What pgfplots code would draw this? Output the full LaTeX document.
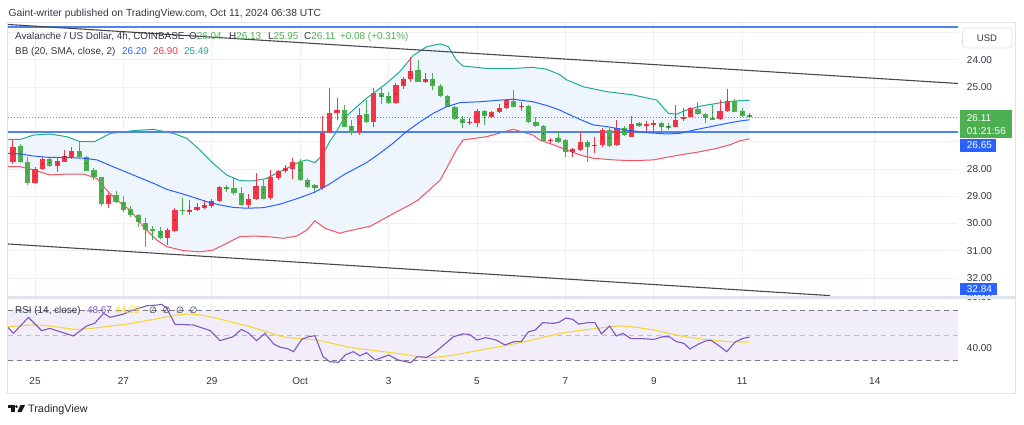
\documentclass[border=0pt]{standalone}
\usepackage{pgfplots}
\pgfplotsset{compat=1.18}
\usepackage{pgfplotstable}
\usepgfplotslibrary{fillbetween}
\usepackage{fontspec}
\setmainfont{Liberation Sans}
\newfontfamily\symfont{DejaVu Sans}

\definecolor{cgreen}{RGB}{76,175,80}
\definecolor{cred}{RGB}{242,54,69}
\definecolor{bbteal}{RGB}{34,171,148}
\definecolor{bbblue}{RGB}{41,98,255}
\definecolor{bbred}{RGB}{247,82,95}
\definecolor{bbfill}{RGB}{238,245,253}
\definecolor{hline}{RGB}{80,130,240}
\definecolor{tline}{RGB}{70,72,80}
\definecolor{gridc}{RGB}{237,240,246}
\definecolor{framec}{RGB}{224,227,235}
\definecolor{txt}{RGB}{50,54,64}
\definecolor{rsip}{RGB}{126,87,194}
\definecolor{rsiy}{RGB}{247,214,60}
\definecolor{rsifill}{RGB}{242,238,249}
\definecolor{dashc}{RGB}{120,123,134}
\definecolor{dashl}{RGB}{187,189,194}
\definecolor{boxblue}{RGB}{41,98,255}

\pgfplotstableread{
k o h l c
1 27.16 27.80 27.10 27.76
2 27.73 28.59 27.55 28.53
5 27.65 27.92 27.61 27.89
9 27.33 27.61 27.00 27.58
10 27.55 28.08 27.53 28.06
11 28.04 28.41 27.98 28.31
12 28.28 29.36 28.28 29.29
14 28.97 29.26 28.80 29.20
15 29.20 29.57 28.99 29.51
16 29.47 29.75 29.36 29.69
17 29.69 30.12 29.66 29.93
18 29.97 30.87 29.81 30.24
19 30.21 30.60 30.09 30.26
20 30.26 30.58 30.12 30.54
23 29.50 29.69 29.08 29.53
29 28.68 28.83 28.59 28.71
30 28.71 28.96 28.28 28.89
31 28.87 29.36 28.68 29.32
34 28.63 29.11 28.41 29.09
39 27.73 28.43 27.65 28.41
40 28.41 28.71 28.35 28.65
41 28.60 28.89 28.55 28.69
45 25.84 26.48 25.66 26.45
46 26.43 26.76 26.21 26.67
48 25.99 26.31 25.48 26.27
50 25.23 25.62 25.05 25.38
51 25.33 25.62 25.17 25.60
55 24.38 24.83 24.01 24.80
57 24.72 25.11 24.50 24.96
58 24.96 25.38 24.90 25.33
59 25.33 25.74 25.29 25.72
60 25.72 26.21 25.70 26.18
61 26.17 26.51 26.06 26.33
64 25.87 26.39 25.84 26.06
68 25.50 25.74 25.11 25.72
70 25.70 26.31 25.66 26.27
71 26.27 26.45 26.11 26.42
72 26.42 27.00 26.39 26.97
74 26.88 27.06 26.64 27.00
75 26.94 27.58 26.92 27.37
78 27.00 27.74 26.94 27.19
81 26.58 27.19 26.51 27.16
83 26.51 26.80 26.43 26.76
85 26.33 26.45 26.27 26.42
88 26.33 26.60 26.27 26.45
89 26.44 26.58 26.33 26.47
93 25.81 26.03 25.54 25.99
94 25.99 26.33 25.97 26.15
95 26.14 26.19 25.66 26.17
98 25.50 25.93 25.45 25.90
99 25.87 26.11 25.78 26.06
100 26.04 26.13 25.95 26.11
}\greentab

\pgfplotstableread{
k o h l c
0 27.73 27.82 26.94 27.19
3 28.53 28.55 27.92 28.00
4 28.00 28.04 27.55 27.65
6 27.88 28.10 27.61 27.71
7 27.73 27.76 27.31 27.53
8 27.58 27.65 27.19 27.33
13 29.29 29.44 28.89 28.97
21 30.52 30.79 30.18 30.24
22 30.27 30.30 29.44 29.51
24 29.54 29.69 29.14 29.51
25 29.51 29.54 29.24 29.38
26 29.44 29.48 29.14 29.32
27 29.36 29.44 29.11 29.18
28 29.16 29.20 28.63 28.65
32 29.32 29.44 28.92 29.11
33 29.11 29.14 28.16 28.63
35 29.08 29.14 28.04 28.31
36 28.35 28.41 28.04 28.08
37 28.06 28.16 27.86 27.98
38 28.00 28.38 27.61 27.73
42 28.71 28.77 26.06 26.70
43 26.67 26.70 25.05 25.94
44 25.96 26.21 25.41 25.84
47 26.67 26.76 25.78 26.03
49 26.27 26.48 25.05 25.23
52 25.60 25.62 24.84 24.93
53 24.96 25.09 24.62 24.71
54 24.72 24.80 23.91 24.40
56 24.80 24.84 24.50 24.71
62 26.29 26.39 26.15 26.27
63 26.31 26.48 25.82 25.87
65 26.09 26.15 25.87 25.90
66 25.93 25.96 25.62 25.78
67 25.78 25.82 25.45 25.48
69 25.71 25.87 25.54 25.68
73 26.95 27.06 26.88 26.93
76 27.37 27.58 27.22 27.27
77 27.31 27.33 26.64 27.00
79 27.16 27.43 26.82 27.12
80 27.12 27.19 26.51 26.58
82 27.12 27.16 26.21 26.51
84 26.82 26.84 26.06 26.37
86 26.43 26.67 26.23 26.37
87 26.36 26.70 26.21 26.33
90 26.45 26.48 25.66 26.21
91 26.19 26.23 25.78 26.11
92 26.09 26.11 25.72 25.78
96 26.19 26.21 25.48 25.87
97 25.87 25.90 25.09 25.50
}\redtab

\pgfplotsset{
  candlewick/.style={only marks, mark=*, mark options={draw=none, fill=none, scale=0.01}, forget plot,
    error bars/y dir=both, error bars/y explicit, error bars/error mark=none,
    error bars/error bar style={draw=#1, line width=1pt}},
  candlebody/.style={only marks, mark=*, mark options={draw=none, fill=none, scale=0.01}, forget plot,
    error bars/y dir=both, error bars/y explicit, error bars/error mark=none,
    error bars/error bar style={draw=#1, line width=5.2pt}},
}

\begin{document}
\begin{tikzpicture}
\draw[framec, line width=1pt] (7.5pt,-22.5pt) rectangle (1015pt,-393pt);

% ===== main price pane =====
\begin{axis}[
  at={(8pt,-297pt)}, anchor=south west, scale only axis,
  width=950pt, height=275pt,
  xmin=-0.67, xmax=128.3, ymin=22.619, ymax=32.692, y dir=reverse,
  axis line style={draw=none}, tick style={draw=none},
  xtick={3,15,27,39,51,63,75,87,99,117}, xticklabels={},
  ytick={23,24,...,32},
  yticklabels={,24.00,25.00,,,28.00,29.00,30.00,31.00,32.00},
  yticklabel pos=right,
  yticklabel style={font=\fontsize{10}{12}\selectfont, text=txt, anchor=west, xshift=5.4pt},
  grid=major, grid style={draw=gridc, line width=0.8pt},
  set layers,
]
% Bollinger bands
\addplot[name path=bbup, draw=bbteal, line width=1pt] coordinates {
(-0.67,26.92) (1,26.92) (2.8,26.76) (5,26.72) (7.3,26.82) (9.1,27.00) (11.1,27.00) (13.2,26.70) (16.3,26.60) (19.1,26.55) (21.8,26.70) (23.6,26.88) (25.4,27.31) (27.2,27.80) (29,28.22) (30.8,28.43) (32.6,28.44) (34.4,28.35) (36.7,28.04) (39,27.73) (39.9,27.67) (41,27.77) (42,27.5) (43,27.0) (44,26.6) (44.9,26.15) (48,25.41) (50.7,24.87) (52.5,24.44) (54.4,23.83) (56.2,23.52) (58,23.42) (59.1,23.52) (60.2,24.01) (61.1,24.23) (64.3,24.32) (67.9,24.32) (70.6,24.28) (72.5,24.35) (74.3,24.56) (75.2,24.74) (77.4,24.99) (80.6,25.17) (84.2,25.29) (87.4,25.48) (89,25.97) (90.1,25.99) (91.5,25.84) (93.3,25.70) (95.1,25.62) (96.9,25.54) (98.7,25.50) (100,25.49)};
\addplot[name path=bblo, draw=bbred, line width=1pt] coordinates {
(-0.67,27.92) (1,27.92) (2.8,28.04) (5,28.22) (7.3,28.19) (9.6,28.19) (11.4,28.35) (12.7,28.77) (14.1,29.14) (15.9,29.51) (17.7,30.12) (19.5,30.60) (20.9,30.85) (23.1,30.99) (25.4,31.04) (27.2,30.97) (29,30.73) (30.8,30.48) (32.6,30.46) (34.4,30.48) (36.7,30.54) (38.5,30.46) (39.9,30.24) (41,29.90) (42.4,30.18) (44.4,30.36) (45.1,30.30) (48.5,30.10) (51.9,29.6) (54,29.3) (55,29.14) (58,28.41) (60.2,27.31) (61.1,26.94) (64.3,26.82) (67.9,26.55) (70.6,26.76) (71.5,26.94) (73.4,27.12) (75.2,27.31) (77,27.49) (78.8,27.61) (81.5,27.67) (84.2,27.70) (86.9,27.67) (88.7,27.58) (90.5,27.49) (93.3,27.37) (95.5,27.25) (97.3,27.12) (98.7,26.97) (100,26.90)};
\addplot[bbfill] fill between[of=bbup and bblo];
% horizontal drawings
\addplot[draw=hline, line width=1.3pt] coordinates {(-0.67,22.80) (128.3,22.80)};
\addplot[draw=hline, line width=1.3pt] coordinates {(-0.67,26.65) (128.3,26.65)};
\addplot[draw=cgreen, line width=0.8pt, dash pattern=on 1pt off 2pt] coordinates {(-0.67,26.11) (128.3,26.11)};
% candles
\addplot[candlewick=cgreen] table[x=k, y expr={(\thisrow{h}+\thisrow{l})/2}, y error expr={(\thisrow{h}-\thisrow{l})/2}] {\greentab};
\addplot[candlebody=cgreen] table[x=k, y expr={(\thisrow{o}+\thisrow{c})/2}, y error expr={abs(\thisrow{c}-\thisrow{o})/2}] {\greentab};
\addplot[candlewick=cred] table[x=k, y expr={(\thisrow{h}+\thisrow{l})/2}, y error expr={(\thisrow{h}-\thisrow{l})/2}] {\redtab};
\addplot[candlebody=cred] table[x=k, y expr={(\thisrow{o}+\thisrow{c})/2}, y error expr={abs(\thisrow{c}-\thisrow{o})/2}] {\redtab};
% basis
\addplot[draw=bbblue, line width=1pt] coordinates {
(-0.67,27.43) (1,27.45) (2.8,27.53) (5,27.58) (7.3,27.58) (9.6,27.61) (11.4,27.67) (13.6,27.92) (16.3,28.22) (19.1,28.53) (20.9,28.75) (22.7,28.89) (24.5,29.04) (26.3,29.20) (28.1,29.32) (29.9,29.41) (31.7,29.44) (34,29.42) (36.3,29.29) (39,29.05) (41,28.85) (43,28.55) (45,28.2) (48,27.77) (49.8,27.43) (51.6,27.06) (53.4,26.64) (55.3,26.27) (57.1,25.96) (58.9,25.72) (60.7,25.57) (63.4,25.54) (66.1,25.48) (67.9,25.45) (70.6,25.54) (72.5,25.68) (74.3,25.85) (75.2,25.97) (77,26.19) (78.8,26.39) (80.6,26.45) (83.3,26.58) (86,26.67) (88.7,26.72) (90.5,26.70) (92.4,26.58) (95.1,26.43) (97.3,26.31) (99.1,26.23) (100,26.20)};
% channel lines
\addplot[draw=tline, line width=1.1pt] coordinates {(-0.67,22.71) (128.3,24.87)};
\addplot[draw=tline, line width=1.1pt] coordinates {(-0.67,30.75) (110.9,32.64)};
\end{axis}

% ===== RSI pane =====
\begin{axis}[
  at={(8pt,-366pt)}, anchor=south west, scale only axis,
  width=950pt, height=67pt,
  xmin=-0.67, xmax=128.3, ymin=25.8, ymax=78.7,
  axis line style={draw=none}, tick style={draw=none},
  xtick={3,15,27,39,51,63,75,87,99,117},
  xticklabels={25,27,29,Oct,3,5,7,9,11,14},
  xticklabel style={font=\fontsize{10}{12}\selectfont, text=txt, anchor=north, inner sep=0pt, yshift=-11pt},
  ytick={40}, yticklabels={40.00},
  yticklabel pos=right,
  yticklabel style={font=\fontsize{10}{12}\selectfont, text=txt, anchor=west, xshift=5.4pt},
  grid=major, grid style={draw=gridc, line width=0.8pt},
  set layers,
]
\addplot[name path=r70, draw=dashc, line width=0.9pt, dash pattern=on 5pt off 4pt] coordinates {(-0.67,70) (128.3,70)};
\addplot[name path=r30, draw=dashc, line width=0.9pt, dash pattern=on 5pt off 4pt] coordinates {(-0.67,30) (128.3,30)};
\addplot[rsifill] fill between[of=r70 and r30];
\addplot[draw=dashl, line width=0.9pt, dash pattern=on 5pt off 4pt] coordinates {(-0.67,50) (128.3,50)};
\addplot[draw=rsiy, line width=1.1pt, smooth, tension=0.4] coordinates {
(-0.67,56.8) (2.8,58.2) (5,57.4) (8.7,54.7) (11.8,56.3) (15.4,58.9) (18.6,62.1) (21.8,65.5) (23.6,66.8) (25.4,66.1) (27.7,63.4) (32.2,56.8) (36.7,48.9) (41.2,46.3) (45.8,40.5) (50.3,37.1) (52.5,35.5) (56.4,32.4) (59.8,34.5) (64.7,39.7) (69.5,45.0) (74.4,51.6) (79.2,55.5) (82.6,57.4) (86.5,54.7) (91.3,48.9) (94.7,46.3) (97.1,45.0) (100,44.69)};
\addplot[draw=rsip, line width=1.1pt] coordinates {
(-0.67,56.3) (0.06,51.6) (2.1,64.2) (3.9,53.7) (5,55.5) (8.2,49.5) (10,57.4) (11.1,59.5) (12.3,67.4) (13.2,64.2) (15,66.8) (16.3,70.0) (18.2,73.4) (19.5,73.9) (20.2,74.5) (20.9,71.3) (22,58.7) (24.5,58.2) (26.8,53.7) (28.1,45.8) (29.9,48.9) (31,54.7) (31.9,52.1) (33.1,45.8) (34.2,51.6) (35.4,43.2) (36.3,40.5) (37.2,39.7) (38.1,37.1) (39.2,46.8) (40.1,48.9) (41,49.7) (42.1,33.2) (43,29.2) (44.2,28.7) (45.1,34.5) (46.2,37.1) (47.1,33.9) (48,36.3) (49.2,30.5) (51,34.5) (52.3,30.5) (54,28.4) (54.9,33.2) (56.2,32.6) (57.4,37.1) (59.8,48.9) (61,51.1) (62,50.8) (63,46.3) (64.2,48.2) (65.6,46.3) (66.8,42.4) (68,45.0) (69,45.0) (70,52.9) (70.9,54.2) (71.9,60.0) (73.4,59.5) (74.1,60.3) (75.1,63.7) (76,62.6) (76.8,58.9) (78,60.0) (79,60.0) (79.9,51.1) (81,57.4) (81.9,49.5) (82.8,51.6) (83.9,47.4) (85.5,47.4) (87,46.8) (88.2,48.9) (89.1,48.9) (90.1,45.0) (91.1,43.7) (91.9,39.2) (93,42.9) (94,45.5) (94.7,46.3) (95.7,42.4) (96.9,37.1) (98.1,45.0) (99.1,47.6) (100,48.67)};
\end{axis}

% RSI 80 label (partly hidden)
\node[anchor=west, inner sep=0pt, font=\fontsize{10}{12}\selectfont, text=txt] at (966.7pt,-297.5pt) {80.00};
% pane separator
\fill[framec] (7.5pt,-296.3pt) rectangle (1015pt,-298.8pt);

% ===== texts =====
\tikzset{lab/.style={anchor=base west, inner sep=0pt, font=\fontsize{9.9}{12}\selectfont, text=txt}}
\node[anchor=base west, inner sep=0pt, font=\fontsize{10.3}{12}\selectfont, text=txt] at (8.5pt,-16.5pt) {Gaint-writer published on TradingView.com, Oct 11, 2024 06:38 UTC};

\node[lab] at (15pt,-39.5pt) {Avalanche / US Dollar, 4h, COINBASE};
\node[lab] at (189pt,-39.5pt) {O\textcolor{cgreen}{26.04}};
\node[lab] at (229pt,-39.5pt) {H\textcolor{cgreen}{26.13}};
\node[lab] at (268pt,-39.5pt) {L\textcolor{cgreen}{25.95}};
\node[lab] at (304pt,-39.5pt) {C\textcolor{cgreen}{26.11}};
\node[lab, text=cgreen] at (340pt,-39.5pt) {+0.08 (+0.31\%)};

\node[lab] at (15pt,-54pt) {BB (20, SMA, close, 2)};
\node[lab, text=bbblue] at (122pt,-54pt) {26.20};
\node[lab, text=cred] at (153pt,-54pt) {26.90};
\node[lab, text=bbteal] at (184pt,-54pt) {25.49};

\node[lab] at (15pt,-313pt) {RSI (14, close)};
\node[lab, text=rsip] at (87pt,-313pt) {48.67};
\node[lab, text=rsiy] at (115pt,-313pt) {44.69};
\node[lab, font=\symfont\fontsize{9}{12}\selectfont] at (149pt,-313pt) {∅};
\node[lab, font=\symfont\fontsize{9}{12}\selectfont] at (162.5pt,-313pt) {∅};
\node[lab, font=\symfont\fontsize{9}{12}\selectfont] at (176pt,-313pt) {∅};
\node[lab, font=\symfont\fontsize{9}{12}\selectfont] at (189.5pt,-313pt) {∅};

% price scale tags
\draw[framec, fill=white, rounded corners=3pt, line width=0.8pt] (962.5pt,-28pt) rectangle (1012pt,-48pt);
\node[inner sep=0pt, font=\fontsize{9.5}{12}\selectfont, text=txt] at (987pt,-38pt) {USD};

\fill[cgreen] (960pt,-110pt) rectangle (1012pt,-138pt);
\node[anchor=west, inner sep=0pt, font=\fontsize{10}{12}\selectfont, text=white] at (966.7pt,-118.5pt) {26.11};
\node[anchor=west, inner sep=0pt, font=\fontsize{10}{12}\selectfont, text=white] at (966.7pt,-131pt) {01:21:56};

\fill[boxblue] (960pt,-139pt) rectangle (996pt,-151.5pt);
\node[anchor=west, inner sep=0pt, font=\fontsize{10}{12}\selectfont, text=white] at (966.7pt,-145.3pt) {26.65};

\fill[boxblue] (960pt,-283pt) rectangle (997pt,-295pt);
\node[anchor=west, inner sep=0pt, font=\fontsize{10}{12}\selectfont, text=white] at (966.7pt,-289pt) {32.84};

% TradingView logo
\fill[black!90] (8pt,-405pt) rectangle (14.5pt,-407.6pt);
\fill[black!90] (11.2pt,-405pt) rectangle (14.5pt,-412pt);
\fill[black!90] (16.6pt,-406.6pt) circle (1.5pt);
\fill[black!90] (20.5pt,-405pt) -- (25pt,-405pt) -- (21.6pt,-412pt) -- (17.3pt,-412pt) -- cycle;
\node[anchor=base west, inner sep=0pt, font=\fontsize{10.8}{12}\selectfont, text=black!85] at (28pt,-412pt) {TradingView};

% picture extent
\path (0,0) rectangle (1024pt,-424pt);
\end{tikzpicture}
\end{document}
